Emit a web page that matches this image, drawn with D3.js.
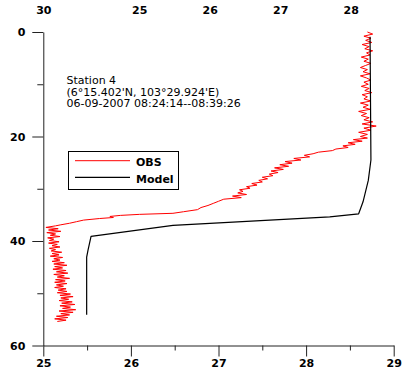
<!DOCTYPE html>
<html><head><meta charset="utf-8">
<script src="https://cdn.jsdelivr.net/npm/d3@7"></script>
<style>
html,body{margin:0;padding:0;background:#fff;}
svg text{font-family:"DejaVu Sans",sans-serif;}
</style>
</head><body>
<svg id="chart" width="404" height="378"></svg>
<script>
// ---- data ----
const bottomTicks = [25, 26, 27, 28, 29];
const bottomMinor = [25.5, 26.5, 27.5, 28.5];
const leftTicks = [0, 20, 40, 60];
const leftMinor = [10, 30, 50];
const topTickValues = [23.64, 25, 26, 27, 28];
const topTickLabels = ["30", "25", "26", "27", "28"];
const annotation = ["Station 4", "(6°15.402'N, 103°29.924'E)", "06-09-2007 08:24:14--08:39:26"];
const seriesNames = ["OBS", "Model"];

// observed profile: [depth (m), temperature]
const obs = [
[0.0,28.70],[0.4,28.76],[0.8,28.66],[1.2,28.74],[1.6,28.68],[2.0,28.75],[2.4,28.64],[2.8,28.72],
[3.2,28.67],[3.6,28.76],[4.0,28.69],[4.4,28.73],[4.8,28.63],[5.2,28.71],[5.6,28.66],[6.0,28.74],
[6.4,28.68],[6.8,28.62],[7.2,28.70],[7.6,28.65],[8.0,28.73],[8.4,28.62],[8.8,28.69],[9.2,28.74],
[9.6,28.66],[10.0,28.71],[10.4,28.63],[10.8,28.72],[11.2,28.67],[11.6,28.75],[12.0,28.64],[12.4,28.70],
[12.8,28.66],[13.2,28.74],[13.6,28.62],[14.0,28.71],[14.4,28.65],[14.8,28.73],[15.2,28.60],[15.6,28.69],
[16.0,28.63],[16.4,28.72],[16.8,28.66],[17.2,28.76],[17.6,28.64],[18.0,28.80],[18.4,28.66],[18.8,28.74],
[19.2,28.60],[19.6,28.70],
[20.0,28.62],[20.3,28.70],[20.6,28.54],[20.9,28.64],[21.2,28.48],[21.5,28.56],[21.8,28.42],[22.1,28.48],
[22.4,28.34],[22.7,28.30],[23.0,28.14],[23.3,28.08],[23.6,27.98],[23.9,28.04],[24.2,27.86],[24.5,27.94],
[24.8,27.76],[25.1,27.84],[25.4,27.70],[25.7,27.80],[26.0,27.64],[26.3,27.74],[26.6,27.60],[26.9,27.68],
[27.2,27.58],[27.5,27.62],[27.8,27.50],[28.1,27.56],[28.4,27.46],[28.7,27.50],[29.0,27.38],[29.3,27.44],
[29.6,27.32],[29.9,27.36],[30.2,27.24],[30.5,27.28],[30.8,27.22],[31.1,27.32],[31.4,27.16],[31.7,27.26],
[32.0,27.06],[32.4,27.00],[32.8,26.94],[33.2,26.88],[33.6,26.80],[34.0,26.76],
[34.4,26.60],[34.7,26.48],[34.9,26.10],[35.1,25.88],[35.3,25.76],[35.5,25.80],[35.7,25.64],[36.0,25.46],
[36.3,25.38],[36.6,25.30],[36.9,25.20],[37.1,25.14],
[37.40,25.03],[37.65,25.17],[37.90,25.06],[38.15,25.20],[38.40,25.04],[38.65,25.14],[38.90,25.08],[39.15,25.19],
[39.40,25.05],[39.65,25.12],[39.90,25.07],[40.15,25.18],[40.40,25.06],[40.65,25.16],[40.90,25.10],[41.15,25.19],
[41.40,25.07],[41.65,25.14],[41.90,25.09],[42.15,25.21],[42.40,25.10],[42.65,25.18],[42.90,25.08],[43.15,25.22],
[43.40,25.12],[43.65,25.19],[43.90,25.10],[44.15,25.24],[44.40,25.12],[44.65,25.27],[44.90,25.13],[45.15,25.22],
[45.40,25.11],[45.65,25.26],[45.90,25.15],[46.15,25.28],[46.40,25.12],[46.65,25.24],[46.90,25.16],[47.15,25.30],
[47.40,25.14],[47.65,25.25],[47.90,25.13],[48.15,25.27],[48.40,25.15],[48.65,25.23],[48.90,25.13],[49.15,25.26],
[49.40,25.17],[49.65,25.27],[49.90,25.16],[50.15,25.31],[50.40,25.19],[50.65,25.34],[50.90,25.20],[51.15,25.29],
[51.40,25.18],[51.65,25.33],[51.90,25.21],[52.15,25.36],[52.40,25.19],[52.65,25.31],[52.90,25.22],[53.15,25.37],
[53.40,25.18],[53.65,25.34],[53.90,25.20],[54.15,25.30],[54.40,25.15],[54.65,25.28],[54.90,25.13],[55.15,25.26],
[55.40,25.16]
];
// model profile: [depth (m), temperature]
const model = [
[0.9,28.73],[24.5,28.74],[28.4,28.71],[32.5,28.65],[34.8,28.60],[35.4,28.27],
[37.0,26.48],[39.1,25.545],[41.8,25.51],[43.1,25.495],[54.1,25.495]
];

// ---- drawing ----
const svg = d3.select("#chart");
const x = d3.scaleLinear().domain([25, 29]).range([43.3, 393.7]);
const xTop = d3.scaleLinear().domain([23.64, 28.61]).range([43.3, 393.7]);
const y = d3.scaleLinear().domain([0, 60]).range([32, 345.5]);
const axisColor = "#222";

function styleAxis(g, bold) {
  g.selectAll("path, line").attr("stroke", axisColor).attr("stroke-width", 1);
  g.selectAll("text").attr("fill", "#000").attr("font-size", 11)
    .attr("font-weight", bold ? "bold" : "normal")
    .attr("font-family", "DejaVu Sans, sans-serif");
}

// bottom axis
const gB = svg.append("g").attr("transform", `translate(0,${y(60)})`)
  .call(d3.axisBottom(x).tickValues(bottomTicks).tickSize(11).tickSizeOuter(0).tickPadding(3).tickFormat(d3.format("d")));
styleAxis(gB, true);
const gBm = svg.append("g").attr("transform", `translate(0,${y(60)})`)
  .call(d3.axisBottom(x).tickValues(bottomMinor).tickSize(5).tickSizeOuter(0).tickFormat(""));
gBm.select(".domain").remove();
styleAxis(gBm, true);

// left axis
const gL = svg.append("g").attr("transform", `translate(${x(25)},0)`)
  .call(d3.axisLeft(y).tickValues(leftTicks).tickSize(11).tickSizeOuter(0).tickPadding(7).tickFormat(d3.format("d")));
styleAxis(gL, true);
const gLm = svg.append("g").attr("transform", `translate(${x(25)},0)`)
  .call(d3.axisLeft(y).tickValues(leftMinor).tickSize(6).tickSizeOuter(0).tickFormat(""));
gLm.select(".domain").remove();
styleAxis(gLm, true);

// top labels (no axis line)
const gT = svg.append("g").attr("transform", "translate(0,32)")
  .call(d3.axisTop(xTop).tickValues(topTickValues).tickSize(0).tickPadding(18)
    .tickFormat((d, i) => topTickLabels[i]));
gT.select(".domain").remove();
styleAxis(gT, true);

// lines
const line = d3.line().x(d => x(d[1])).y(d => y(d[0]));
svg.append("path").datum(obs).attr("d", line)
  .attr("fill", "none").attr("stroke", "#ff0000").attr("stroke-width", 1).attr("stroke-linejoin", "round");
svg.append("path").datum(model).attr("d", line)
  .attr("fill", "none").attr("stroke", "#000").attr("stroke-width", 1.2).attr("stroke-linejoin", "round");

// annotation
const ann = svg.append("g");
annotation.forEach((t, i) => {
  ann.append("text").attr("x", 66.5).attr("y", 84 + i * 11.7)
    .attr("font-size", 11).attr("fill", "#000").text(t);
});

// legend
const lg = svg.append("g");
lg.append("rect").attr("x", 68.5).attr("y", 151.5).attr("width", 110).attr("height", 38)
  .attr("fill", "#fff").attr("stroke", "#000").attr("stroke-width", 1);
const legColors = ["#ff0000", "#000"];
seriesNames.forEach((n, i) => {
  const ly = 160.7 + i * 16.6;
  lg.append("line").attr("x1", 75).attr("x2", 130).attr("y1", ly).attr("y2", ly)
    .attr("stroke", legColors[i]).attr("stroke-width", i ? 1.2 : 1);
  lg.append("text").attr("x", 136).attr("y", ly + 5.2).attr("font-size", 11)
    .attr("font-weight", "bold").attr("fill", "#000").text(n);
});
</script>
</body></html>
